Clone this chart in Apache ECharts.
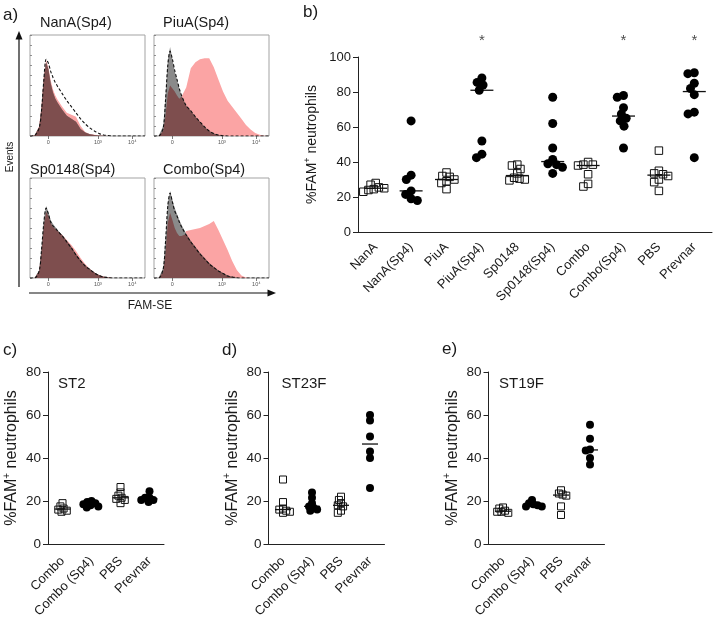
<!DOCTYPE html>
<html><head><meta charset="utf-8">
<script src="https://cdn.jsdelivr.net/npm/echarts@6/dist/echarts.min.js"></script>
<style>html,body{margin:0;padding:0;background:#fff}#c{width:715px;height:618px}</style>
</head><body><div id="c"></div>
<script>
// ---------- Panel a: histogram data (x in display units 0..100, y = % of panel height) ----------
const histX = [0,4,8,10,12,14,16,18,20,22,24,28,32,36,40,44,48,52,56,60,64,68,72,76,80,84,88,92,96,100];
const histTickPos = [15.9, 59, 89];
const histTickLabels = ['0', '10³', '10⁴'];

const nanaGray = [0,0.5,9,28,57,73,66,52,43,37,33,26,20,17,14,7,3.5,1.8,1,0.5,0.2,0,0,0,0,0,0,0,0,0];
const nanaPink = [0,0.5,10,30,60,75,68,55,46,40,36,29,23,21,19,10,4,2,1.2,0.6,0.3,0,0,0,0,0,0,0,0,0];
const nanaDash = [0,0.5,8,25,55,76,72,64,58,53,49,42,35,29,23,17,12,8,5,2.5,1,0.5,0,0,0,0,0,0,0,0];

const piuaGray = [0,0,10,40,75,88,76,64,56,47,40,30,25,19,14,9,5,2.5,1,0.3,0,0,0,0,0,0,0,0,0,0];
const piuaPink = [0,0,5,20,42,50,47,44,40,37,39,48,67,73,76,77,77,68,56,44,35,29,23,17,11,6.5,3,1.2,0.3,0];
const piuaDash = [0,0,8,35,70,84,76,65,56,47,40,30,25,19,14,9,5,2.5,1,0.3,0,0,0,0,0,0,0,0,0,0];

const sp0148Gray = [0,0,8,30,58,72,66,58,54,51,48,43,37,31,24,18,12.5,9,5.5,3,1.3,0.5,0,0,0,0,0,0,0,0];
const sp0148Pink = [0,0,7,27,52,66,62,55,51,49,47,43,38,33,27,20,14,9,5.5,3,1.5,0.5,0,0,0,0,0,0,0,0];
const sp0148Dash = [0,0,7,28,55,70,64,56,52,50,47,42,36,30,23,17,12,8.5,5,2.5,1,0.5,0,0,0,0,0,0,0,0];

const comboGray = [0,0,10,40,75,87,78,70,64,58,53,44,37,31,25,20,15,11,7.5,5,2.5,1.2,0.3,0,0,0,0,0,0,0];
const comboPink = [0,0,6,25,55,65,58,50,45,42,42,47,48,49,50,52,54,57,48,38,28,17,8,2.5,0.5,0,0,0,0,0];
const comboDash = [0,0,9,36,72,85,76,67,62,56,51,43,36,30,24,19,14,10.5,7,4.5,2,1,0.3,0,0,0,0,0,0,0];

const histTitles = ['NanA(Sp4)', 'PiuA(Sp4)', 'Sp0148(Sp4)', 'Combo(Sp4)'];

// ---------- Panel b ----------
const bCats = ['NanA','NanA(Sp4)','PiuA','PiuA(Sp4)','Sp0148','Sp0148(Sp4)','Combo','Combo(Sp4)','PBS','Prevnar'];
const bOpen = [true,false,true,false,true,false,true,false,true,false];
const bNanA      = [28, 27, 25.5, 25, 24.5, 24, 23];
const bNanASp4   = [63.5, 32.5, 30, 23.5, 21.5, 19, 18];
const bPiuA      = [34, 32, 31.5, 30, 29, 28, 24.5];
const bPiuASp4   = [88, 85.5, 84, 81, 52, 44.5, 42.5];
const bSp0148    = [38.5, 38, 36, 33.5, 31, 30.5, 30, 29.5];
const bSp0148Sp4 = [77, 62, 48, 41.5, 39, 38.5, 37, 33.5];
const bCombo     = [40, 38.5, 38.5, 38, 33, 27.5, 26];
const bComboSp4  = [78, 77, 71, 67.5, 65, 63.5, 60.5, 48];
const bPBS       = [46.5, 35, 33.5, 33, 32, 30, 28.5, 23.5];
const bPrevnar   = [91, 90.5, 85, 82, 78.5, 68.5, 67.5, 42.5];
const bStars = ['PiuA(Sp4)', 'Combo(Sp4)', 'Prevnar'];

// ---------- Panels c, d, e ----------
const cdeCats = ['Combo', 'Combo (Sp4)', 'PBS', 'Prevnar'];
const cdeOpen = [true, false, true, false];
const st2Combo = [19, 17.5, 16.5, 16, 15.5, 15];
const st2ComboSp4 = [20, 19.5, 19, 18.5, 18, 17.5, 17];
const st2PBS = [26.5, 24, 22.5, 21.5, 21, 20.5, 19];
const st2Prevnar = [24.5, 21.5, 21.5, 20.5, 20.5, 19.5];

const st23Combo = [30, 19.5, 16.5, 16, 15.5, 15, 14.5];
const st23ComboSp4 = [24, 21.5, 19, 17.5, 17, 16, 15.5];
const st23PBS = [22, 20.5, 19, 18, 17.5, 15.5, 14.5];
const st23Prevnar = [60, 57.5, 50, 43, 40, 26];

const st19Combo = [17, 16.5, 15.5, 15, 15, 14.5];
const st19ComboSp4 = [20.5, 19, 18.5, 18, 17.5, 17.5];
const st19PBS = [25, 23.5, 23, 22.5, 17.5, 13.5];
const st19Prevnar = [55.5, 49, 44, 43.5, 40, 37];
const cdeTitles = ['ST2', 'ST23F', 'ST19F'];

// ---------- build ----------
const FONT = 'Arial, "Liberation Sans", Helvetica, sans-serif';
const TXT = '#1a1a1a';
const PINK = '#fba4a4', GRAY = '#8a8a8a', BROWN = '#7e4e4e';

const chart = echarts.init(document.getElementById('c'), null, {renderer: 'canvas'});
const grids = [], xAxes = [], yAxes = [], series = [];

function pts(xs, ys) { return xs.map((x, i) => [x, ys[i]]); }
function median(a) { const s = a.slice().sort((p, q) => p - q); const n = s.length; return n % 2 ? s[(n - 1) / 2] : (s[n / 2 - 1] + s[n / 2]) / 2; }
function swarm(values, D, ppu) {
  const placed = [], out = new Array(values.length);
  const order = values.map((v, i) => i).sort((a, b) => values[b] - values[a]);
  for (const i of order) {
    const y = values[i] * ppu;
    const cands = [0];
    for (const p of placed) { const dy = Math.abs(p.y - y); if (dy < D) { const dx = Math.sqrt(D * D - dy * dy); cands.push(p.x - dx, p.x + dx); } }
    const ok = cands.filter(c => placed.every(p => (p.x - c) ** 2 + (p.y - y) ** 2 >= D * D - 0.01));
    ok.sort((a, b) => Math.abs(a) - Math.abs(b) || a - b);
    out[i] = ok[0]; placed.push({x: ok[0], y});
  }
  return out;
}

// Histogram grids
const histGrids = [
  {left: 30, top: 35, width: 115, height: 101},
  {left: 154, top: 35, width: 115, height: 101},
  {left: 30, top: 178, width: 115, height: 100},
  {left: 154, top: 178, width: 115, height: 100}
];
const histData = [
  [nanaGray, nanaPink, nanaDash], [piuaGray, piuaPink, piuaDash],
  [sp0148Gray, sp0148Pink, sp0148Dash], [comboGray, comboPink, comboDash]
];
histGrids.forEach((g, i) => {
  grids.push(Object.assign({show: true, borderColor: '#a3a3a3', borderWidth: 1, backgroundColor: 'transparent', outerBoundsMode: 'none', containLabel: false}, g));
  xAxes.push({gridIndex: i, type: 'value', min: 0, max: 100, axisLine: {show: false}, splitLine: {show: false},
    axisTick: {show: true, customValues: histTickPos, length: 3, lineStyle: {color: '#555', width: 0.8}},
    axisLabel: {show: true, customValues: histTickPos, fontSize: 5.5, margin: 3, color: '#555',
      formatter: v => { const k = histTickPos.indexOf(v); return k >= 0 ? histTickLabels[k] : ''; }}});
  yAxes.push({gridIndex: i, type: 'value', min: 0, max: 100, interval: 10, axisLine: {show: false}, splitLine: {show: false},
    axisLabel: {show: false}, axisTick: {show: true, inside: true, length: 2, lineStyle: {color: '#777', width: 0.8}}});
  const [gr, pk, da] = histData[i];
  const mn = gr.map((v, j) => Math.min(v, pk[j]));
  const base = {type: 'line', xAxisIndex: i, yAxisIndex: i, showSymbol: false, silent: true, animation: false};
  series.push(Object.assign({}, base, {data: pts(histX, pk), lineStyle: {width: 0}, areaStyle: {color: PINK, opacity: 1}, z: 2}));
  series.push(Object.assign({}, base, {data: pts(histX, gr), lineStyle: {width: 0}, areaStyle: {color: GRAY, opacity: 1}, z: 3}));
  series.push(Object.assign({}, base, {data: pts(histX, mn), lineStyle: {width: 0}, areaStyle: {color: BROWN, opacity: 1}, z: 4}));
  series.push(Object.assign({}, base, {data: pts(histX, da), smooth: 0.3, lineStyle: {color: '#111', width: 1.1, type: [3, 2]}, z: 5}));
});

// Scatter panels
function scatterPanel(gi, grid, cats, groups, open, o) {
  grids.push(Object.assign({outerBoundsMode: 'none', containLabel: false}, grid));
  xAxes.push({gridIndex: gi, type: 'category', data: cats, boundaryGap: true,
    axisLine: {lineStyle: {color: '#222', width: 1}},
    axisTick: {alignWithLabel: true, length: 5, lineStyle: {color: '#222'}},
    axisLabel: {rotate: 45, interval: 0, fontSize: o.catFont, color: TXT, margin: o.catMargin, fontFamily: FONT}});
  yAxes.push({gridIndex: gi, type: 'value', min: 0, max: o.max, interval: 20,
    axisLine: {show: true, lineStyle: {color: '#222', width: 1}},
    axisTick: {show: true, length: 5, lineStyle: {color: '#222'}}, splitLine: {show: false},
    axisLabel: {fontSize: o.tickFont, color: TXT, margin: 7, fontFamily: FONT},
    name: '%FAM{s|+} neutrophils', nameLocation: 'middle', nameRotate: 90, nameGap: o.nameGap,
    nameTextStyle: {fontSize: o.nameFont, color: TXT, fontFamily: FONT, lineHeight: o.nameFont + 4,
      rich: {s: {fontSize: Math.round(o.nameFont * 0.62), verticalAlign: 'top', fontFamily: FONT, color: TXT, lineHeight: o.nameFont + 4}}}});
  const ppu = grid.height / o.max;
  const sq = [], dot = [], med = [];
  groups.forEach((vals, ci) => {
    const size = open[ci] ? o.sq : o.dot;
    const offs = swarm(vals, size * o.factor, ppu);
    vals.forEach((v, k) => (open[ci] ? sq : dot).push({value: [ci, v], symbolOffset: [offs[k], 0]}));
    med.push([ci, median(vals)]);
  });
  const base = {type: 'scatter', xAxisIndex: gi, yAxisIndex: gi, silent: true, animation: false};
  series.push(Object.assign({}, base, {symbol: 'rect', symbolSize: [o.medW, 1.3], data: med, itemStyle: {color: '#111', opacity: 1}, z: 4}));
  series.push(Object.assign({}, base, {symbol: 'rect', symbolSize: o.sq, data: sq,
    itemStyle: {color: 'rgba(255,255,255,0)', borderColor: '#111', borderWidth: 1, opacity: 1}, z: 5}));
  series.push(Object.assign({}, base, {symbol: 'circle', symbolSize: o.dot, data: dot, itemStyle: {color: '#000', opacity: 1}, z: 6}));
}

scatterPanel(4, {left: 358, top: 57, width: 354, height: 175},
  bCats, [bNanA, bNanASp4, bPiuA, bPiuASp4, bSp0148, bSp0148Sp4, bCombo, bComboSp4, bPBS, bPrevnar], bOpen,
  {max: 100, sq: 7.5, dot: 9, factor: 0.72, medW: 23, catFont: 13, tickFont: 13, catMargin: 13, nameFont: 14, nameGap: 37});
// stars
series.push({type: 'scatter', xAxisIndex: 4, yAxisIndex: 4, silent: true, clip: false, animation: false,
  symbolSize: 1, itemStyle: {color: 'rgba(0,0,0,0)'},
  data: bStars.map(c => [bCats.indexOf(c), 109]),
  label: {show: true, position: 'inside', formatter: '*', fontSize: 15, color: TXT, fontFamily: FONT}});

const cdeGroups = [
  [st2Combo, st2ComboSp4, st2PBS, st2Prevnar],
  [st23Combo, st23ComboSp4, st23PBS, st23Prevnar],
  [st19Combo, st19ComboSp4, st19PBS, st19Prevnar]
];
const cdeLeft = [48, 268.5, 488.5];
cdeGroups.forEach((g, k) => {
  scatterPanel(5 + k, {left: cdeLeft[k], top: 372, width: 116, height: 172}, cdeCats, g, cdeOpen,
    {max: 80, sq: 7, dot: 8, factor: 0.55, medW: 16, catFont: 13, tickFont: 13.5, catMargin: 15, nameFont: 16, nameGap: 26});
});

// Text and arrows
function txt(text, x, y, size, extra) {
  return Object.assign({type: 'text', x, y, silent: true,
    style: Object.assign({text, fill: TXT, fontSize: size, fontFamily: FONT, textAlign: 'left', textVerticalAlign: 'middle'}, (extra && extra.style) || {})},
    extra && extra.rotation ? {rotation: extra.rotation} : {});
}
const graphic = [
  txt('a)', 3, 15, 17), txt('b)', 303, 12, 17), txt('c)', 3, 350, 17), txt('d)', 222, 350, 17), txt('e)', 442, 349, 17),
  txt(histTitles[0], 40, 23, 14.5), txt(histTitles[1], 163, 23, 14.5),
  txt(histTitles[2], 30, 170, 14.5), txt(histTitles[3], 163, 170, 14.5),
  txt('Events', 10, 157, 10, {rotation: Math.PI / 2, style: {textAlign: 'center'}}),
  txt('FAM-SE', 150, 306, 12, {style: {textAlign: 'center'}}),
  txt(cdeTitles[0], 58, 384, 15), txt(cdeTitles[1], 281.5, 384, 15), txt(cdeTitles[2], 499, 384, 15),
  {type: 'line', silent: true, shape: {x1: 19, y1: 287, x2: 19, y2: 38}, style: {stroke: '#111', lineWidth: 1.2}},
  {type: 'polygon', silent: true, shape: {points: [[19, 31], [15.5, 39.5], [22.5, 39.5]]}, style: {fill: '#111'}},
  {type: 'line', silent: true, shape: {x1: 29, y1: 293, x2: 268, y2: 293}, style: {stroke: '#111', lineWidth: 1.2}},
  {type: 'polygon', silent: true, shape: {points: [[276, 293], [267.5, 289.5], [267.5, 296.5]]}, style: {fill: '#111'}}
];

chart.setOption({
  animation: false,
  textStyle: {fontFamily: FONT},
  grid: grids, xAxis: xAxes, yAxis: yAxes, series, graphic
});
</script></body></html>
